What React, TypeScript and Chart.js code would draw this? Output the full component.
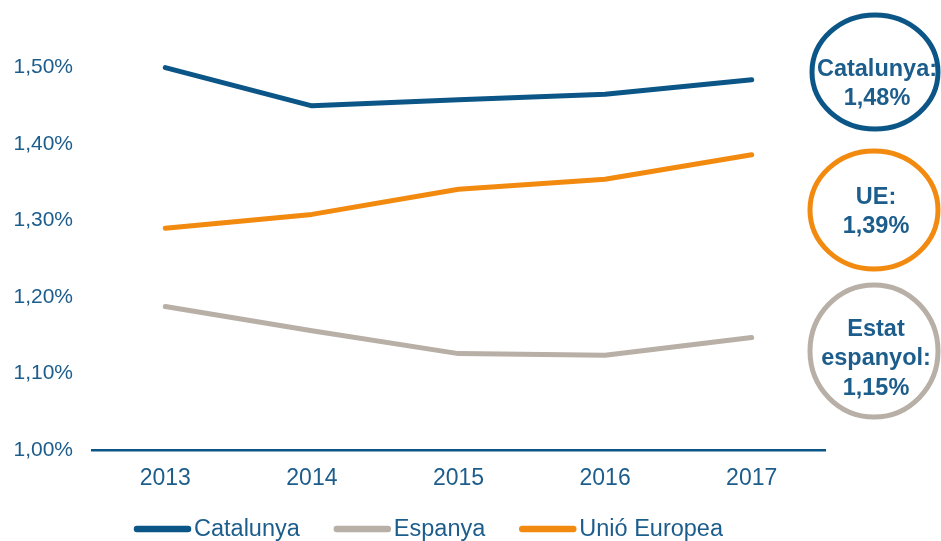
import React, { useEffect, useRef } from "react";
import { Chart, registerables } from "chart.js";
Chart.register(...registerables);

const years = ["2013", "2014", "2015", "2016", "2017"];
const catalunya = [1.5, 1.45, 1.458, 1.465, 1.484];
const espanya = [1.1875, 1.156, 1.126, 1.124, 1.147];
const unioEuropea = [1.29, 1.308, 1.341, 1.354, 1.386];
const seriesNames = ["Catalunya", "Espanya", "Unió Europea"];
const yTickValues = [1.0, 1.1, 1.2, 1.3, 1.4, 1.5];
const calloutCatalunya = ["Catalunya:", "1,48%"];
const calloutUE = ["UE:", "1,39%"];
const calloutEstat = ["Estat", "espanyol:", "1,15%"];

const BLUE = "#0b5687";
const GREY = "#b8afa6";
const ORANGE = "#f28a10";
const TEXT = "#1c5d8c";
const FONT = "'Liberation Sans', Arial, sans-serif";

const fmt = (v: number) => v.toFixed(2).replace(".", ",") + "%";

const overlayPlugin = {
  id: "overlay",
  afterDraw(chart: any) {
    const ctx = chart.ctx as CanvasRenderingContext2D;
    ctx.save();
    const callouts = [
      { lines: calloutCatalunya, color: BLUE, cx: 875, cy: 72, rx: 63, ry: 57, dy: 12 },
      { lines: calloutUE, color: ORANGE, cx: 874, cy: 210, rx: 64, ry: 59, dy: 2 },
      { lines: calloutEstat, color: GREY, cx: 874, cy: 351, rx: 64, ry: 66, dy: 8 },
    ];
    for (const c of callouts) {
      ctx.beginPath();
      ctx.ellipse(c.cx, c.cy, c.rx, c.ry, 0, 0, Math.PI * 2);
      ctx.lineWidth = 5;
      ctx.strokeStyle = c.color;
      ctx.stroke();
      ctx.fillStyle = TEXT;
      ctx.font = `bold 23.5px ${FONT}`;
      ctx.textAlign = "center";
      ctx.textBaseline = "middle";
      const lh = 29.5;
      const n = c.lines.length;
      c.lines.forEach((t, i) => {
        ctx.fillText(t, c.cx + 2, c.cy + c.dy + (i - (n - 1) / 2) * lh);
      });
    }
    const colors = [BLUE, GREY, ORANGE];
    let x = 134;
    const y = 529;
    ctx.font = `23.5px ${FONT}`;
    ctx.textAlign = "left";
    ctx.textBaseline = "middle";
    seriesNames.forEach((name, i) => {
      ctx.beginPath();
      ctx.moveTo(x + 3, y);
      ctx.lineTo(x + 54, y);
      ctx.lineCap = "round";
      ctx.lineWidth = 6.5;
      ctx.strokeStyle = colors[i];
      ctx.stroke();
      ctx.fillStyle = TEXT;
      ctx.fillText(name, x + 60, y + 1);
      x += 60 + ctx.measureText(name).width + 34;
    });
    ctx.restore();
  },
};

export default function App() {
  const ref = useRef<HTMLCanvasElement | null>(null);
  useEffect(() => {
    document.body.style.margin = "0";
    const chart = new Chart(ref.current as HTMLCanvasElement, {
      type: "line",
      data: {
        labels: years,
        datasets: [
          { label: seriesNames[0], data: catalunya, borderColor: BLUE, backgroundColor: BLUE },
          { label: seriesNames[1], data: espanya, borderColor: GREY, backgroundColor: GREY },
          { label: seriesNames[2], data: unioEuropea, borderColor: ORANGE, backgroundColor: ORANGE },
        ].map((d) => ({
          ...d,
          borderWidth: 5,
          pointRadius: 0,
          tension: 0,
          borderCapStyle: "round" as const,
          borderJoinStyle: "round" as const,
        })),
      },
      options: {
        animation: false,
        responsive: false,
        maintainAspectRatio: false,
        layout: { padding: { top: 8, right: 116, left: 0, bottom: 0 } },
        plugins: { legend: { display: false }, tooltip: { enabled: false } },
        scales: {
          x: {
            offset: true,
            grid: { display: false, drawTicks: false },
            border: { display: true, color: BLUE, width: 2.5 },
            ticks: { color: TEXT, font: { family: FONT, size: 23 }, padding: 15 },
            afterFit: (s: any) => {
              s.height = 91;
            },
          },
          y: {
            min: 1.0,
            max: 1.547,
            grid: { display: false, drawTicks: false },
            border: { display: false },
            afterBuildTicks: (s: any) => {
              s.ticks = yTickValues.map((v) => ({ value: v }));
            },
            ticks: {
              color: TEXT,
              font: { family: FONT, size: 21 },
              padding: 19,
              callback: (v: any) => fmt(Number(v)),
            },
            afterFit: (s: any) => {
              s.width = 92;
            },
          },
        },
      },
      plugins: [overlayPlugin],
    });
    return () => chart.destroy();
  }, []);
  return <canvas ref={ref} width={941} height={541} style={{ display: "block" }} />;
}
